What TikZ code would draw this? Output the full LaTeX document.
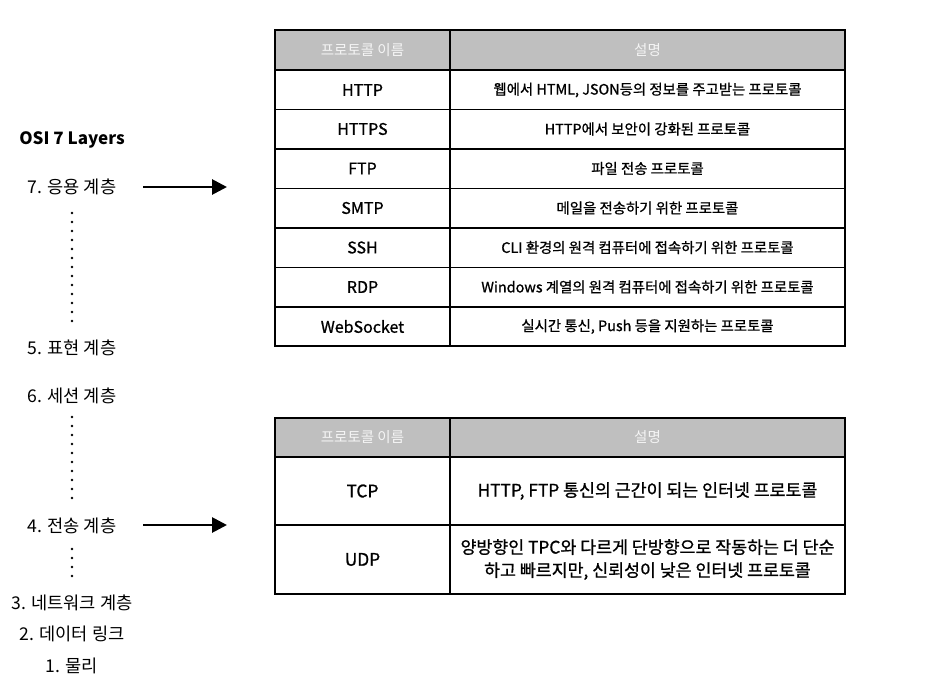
\documentclass[tikz,border=0pt]{standalone}
\usepackage{fontspec}
\setmainfont{Noto Sans CJK KR}
\newfontfamily\medfont{Noto Sans CJK KR}[FakeBold=0.9]
\usetikzlibrary{arrows.meta}
\definecolor{headgray}{HTML}{BFBFBF}

\begin{document}
\begin{tikzpicture}[x=1pt,y=-1pt,
  namecell/.style={font=\medfont\fontsize{16}{19}\selectfont,inner sep=0pt},
  cell/.style={font=\medfont\fontsize{14.4}{17}\selectfont,inner sep=0pt},
  bigcell/.style={font=\medfont\fontsize{17.3}{23}\selectfont,inner sep=0pt,align=center},
  headtext/.style={font=\fontsize{14.5}{17}\selectfont,text=white!96!black,inner sep=0pt},
  layer/.style={font=\fontsize{17.6}{21}\selectfont,inner sep=0pt},
  grid/.style={line width=1.1pt},
  toarrow/.style={line width=2.8pt,-{Triangle[length=15pt,width=15pt]}},
  dots/.style={line width=2.7pt,line cap=round,dash pattern=on 0pt off 9pt}]
\useasboundingbox (0,0) rectangle (930,697);
% layers
\node[layer,font=\fontsize{17}{20}\selectfont\bfseries] (osi) at (72,140) {OSI 7 Layers};
\node[layer] (l7) at (72,187) {7. 응용 계층};
\node[layer] (l5) at (72,348) {5. 표현 계층};
\node[layer] (l6) at (72,396) {6. 세션 계층};
\node[layer] (l4) at (72,526) {4. 전송 계층};
\node[layer] (l3) at (72,603) {3. 네트워크 계층};
\node[layer] (l2) at (72,634) {2. 데이터 링크};
\node[layer] (l1) at (72,666) {1. 물리};
\draw[dots] (72,213) -- (72,321);
\draw[dots] (72,417) -- (72,498);
\draw[dots] (72,549) -- (72,576);
\coordinate (a7s) at (143,187);
\coordinate (a7e) at (227,187);
\coordinate (a4s) at (143,525);
\coordinate (a4e) at (227,525);
\draw[toarrow] (a7s) -- (a7e);
\draw[toarrow] (a4s) -- (a4e);
% application layer table
\fill[headgray] (275,30) rectangle (845,70);
\foreach \y in {70,109.5,149,188.5,228,267.5,307}
  \draw[grid] (275,\y) -- (845,\y);
\draw[grid] (450,30) -- (450,346);
\draw[grid] (275,30) rectangle (845,346);
\node[headtext] (h1name) at (362.5,50) {프로토콜 이름};
\node[headtext] (h1desc) at (647.5,50) {설명};
\node[namecell] (httpname) at (362.5,90) {HTTP};
\node[cell] (httpdesc) at (647.5,90) {웹에서 HTML, JSON등의 정보를 주고받는 프로토콜};
\node[namecell] (httpsname) at (362.5,129) {HTTPS};
\node[cell] (httpsdesc) at (647.5,129) {HTTP에서 보안이 강화된 프로토콜};
\node[namecell] (ftpname) at (362.5,168.5) {FTP};
\node[cell] (ftpdesc) at (647.5,168.5) {파일 전송 프로토콜};
\node[namecell] (smtpname) at (362.5,208) {SMTP};
\node[cell] (smtpdesc) at (647.5,208) {메일을 전송하기 위한 프로토콜};
\node[namecell] (sshname) at (362.5,247.5) {SSH};
\node[cell] (sshdesc) at (647.5,247.5) {CLI 환경의 원격 컴퓨터에 접속하기 위한 프로토콜};
\node[namecell] (rdpname) at (362.5,287) {RDP};
\node[cell] (rdpdesc) at (647.5,287) {Windows 계열의 원격 컴퓨터에 접속하기 위한 프로토콜};
\node[namecell] (wsname) at (362.5,326.5) {WebSocket};
\node[cell] (wsdesc) at (647.5,326.5) {실시간 통신, Push 등을 지원하는 프로토콜};
% transport layer table
\fill[headgray] (275,418) rectangle (845,457);
\draw[grid] (275,457) -- (845,457);
\draw[grid] (275,525) -- (845,525);
\draw[grid] (450,418) -- (450,594);
\draw[grid] (275,418) rectangle (845,594);
\node[headtext] (h2name) at (362.5,437.5) {프로토콜 이름};
\node[headtext] (h2desc) at (647.5,437.5) {설명};
\node[bigcell] (tcpname) at (362.5,491) {TCP};
\node[bigcell] (tcpdesc) at (647.5,491) {HTTP, FTP 통신의 근간이 되는 인터넷 프로토콜};
\node[bigcell] (udpname) at (362.5,559.5) {UDP};
\node[bigcell] (udpdesc) at (647.5,559.5) {양방향인 TPC와 다르게 단방향으로 작동하는 더 단순\\하고 빠르지만, 신뢰성이 낮은 인터넷 프로토콜};
\end{tikzpicture}
\end{document}
